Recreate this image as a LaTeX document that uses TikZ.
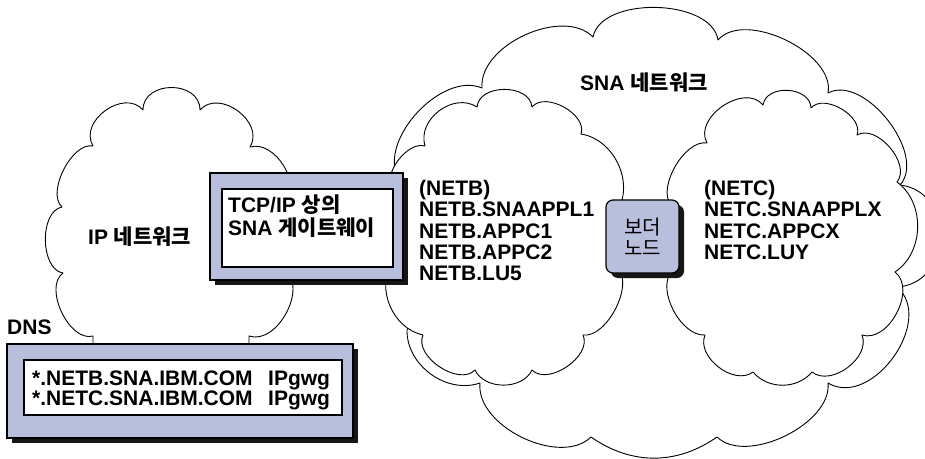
\documentclass[tikz,border=0pt]{standalone}
\usepackage{fontspec}
\setmainfont{Liberation Sans}
\newfontfamily\kr{Noto Sans CJK KR}
\usetikzlibrary{shadows}
\definecolor{lav}{RGB}{183,191,221}
\definecolor{shd}{RGB}{22,22,22}
\begin{document}
\begin{tikzpicture}[x=1pt,y=-1pt,
  cloudline/.style={draw=black, line width=0.9pt, fill=white, line join=round},
  bx/.style={draw=black, line width=1.2pt, fill=lav, inner sep=0pt,
     general shadow={fill=shd, shadow xshift=5pt, shadow yshift=-5pt}},
  wbx/.style={draw=black, line width=1.2pt, fill=white, inner sep=0pt},
  lbl/.style={inner sep=0pt, anchor=base west, font=\bfseries\fontsize{21}{21.3}\selectfont},
]
\useasboundingbox (0,0) rectangle (925,458);
\clip (0,0) rectangle (925,458);

% IP cloud
\draw[cloudline] (93,350) -- (93,336)
  to[bend left=80, looseness=0.9] (63,273)
  to[bend left=80, looseness=0.9] (62,207)
  to[bend left=75, looseness=0.8] (93,146)
  to[bend left=85, looseness=1.2] (143,110)
  to[bend left=90, looseness=1.35] (200,110)
  to[bend left=85, looseness=1.2] (250,147)
  to[bend left=75] (285,205) -- (285,270)
  to[bend left=80] (249,336) -- (249,350) -- cycle;

% SNA big cloud
\draw[cloudline] (398,178)
  to[bend left=70, looseness=0.9] (482,88)
  to[bend left=70, looseness=0.9] (593,37)
  to[bend left=80, looseness=0.86] (718,40)
  to[bend left=75, looseness=0.85] (828,93)
  to[bend left=80, looseness=0.9] (900,185)
  to[bend left=85, looseness=1.4] (897,287)
  to[bend left=85, looseness=1.1] (828,383)
  to[bend left=70, looseness=0.85] (717,437)
  to[bend left=35] (591,437)
  to[bend left=70, looseness=0.9] (480,383)
  to[bend left=55] (407,330) -- (440,260) -- cycle;

% NETB cloud
\draw[cloudline] (423,335)
  to[bend left=55] (392,262) -- (392,190)
  to[bend left=70, looseness=0.85] (425,146)
  to[bend left=70, looseness=1.1] (477,107)
  to[bend left=85, looseness=1.1] (532,107)
  to[bend left=80, looseness=0.95] (581,134)
  to[bend left=55] (618,210) -- (618,268)
  to[bend left=70, looseness=0.8] (583,335)
  to[bend left=80, looseness=0.95] (532,370)
  to[bend left=65] (475,370)
  to[bend left=80, looseness=0.95] (423,335) -- cycle;

% NETC cloud
\draw[cloudline] (705,335)
  to[bend left=65, looseness=0.85] (671,272) -- (671,205)
  to[bend left=70, looseness=0.8] (707,143)
  to[bend left=85, looseness=1.1] (763,105)
  to[bend left=85, looseness=1.15] (811,108)
  to[bend left=80, looseness=0.95] (857,135)
  to[bend left=80, looseness=0.95] (897,182)
  to[bend left=55] (895,272)
  to[bend left=80] (862,335)
  to[bend left=75] (812,372)
  to[bend left=50] (753,372)
  to[bend left=75] (705,335) -- cycle;

% gateway box
\node[bx, minimum width=193pt, minimum height=107pt] (gw) at (306.5,226.5) {};
\node[wbx, minimum width=171pt, minimum height=78pt] (gwin) at (307.5,228) {};
\node[lbl] (gw1) at (228,212.5) {TCP/IP {\kr 상의}};
\node[lbl] (gw2) at (228,235.5) {SNA {\kr 게이트웨이}};

% DNS box
\node[bx, minimum width=346pt, minimum height=94pt] (dns) at (180,391) {};
\node[wbx, minimum width=318pt, minimum height=55pt] (dnsin) at (183,387.5) {};
\node[lbl] (dns1) at (32,385.5) {*.NETB.SNA.IBM.COM};
\node[lbl] (dns2) at (32,405.5) {*.NETC.SNA.IBM.COM};
\node[lbl] (dns1b) at (268,385.5) {IPgwg};
\node[lbl] (dns2b) at (268,405.5) {IPgwg};
\node[lbl] (dnsl) at (7,334.5) {DNS};

% border node
\node[bx, rounded corners=7pt, minimum width=73pt, minimum height=73pt] (bn) at (642.5,236.5) {};
\node[inner sep=0pt, align=center, font=\kr\fontsize{20}{21}\selectfont] (bnt) at (bn.center) {보더\\노드};

% labels
\node[lbl] (ipl) at (88,244.5) {IP {\kr 네트워크}};
\node[lbl] (snal) at (580,90.5) {SNA {\kr 네트워크}};
\node[lbl] (netb) at (419,195.5) {\begin{tabular}[t]{@{}l@{}}(NETB)\\NETB.SNAAPPL1\\NETB.APPC1\\NETB.APPC2\\NETB.LU5\end{tabular}};
\node[lbl] (netc) at (704,195.5) {\begin{tabular}[t]{@{}l@{}}(NETC)\\NETC.SNAAPPLX\\NETC.APPCX\\NETC.LUY\end{tabular}};
\end{tikzpicture}
\end{document}
